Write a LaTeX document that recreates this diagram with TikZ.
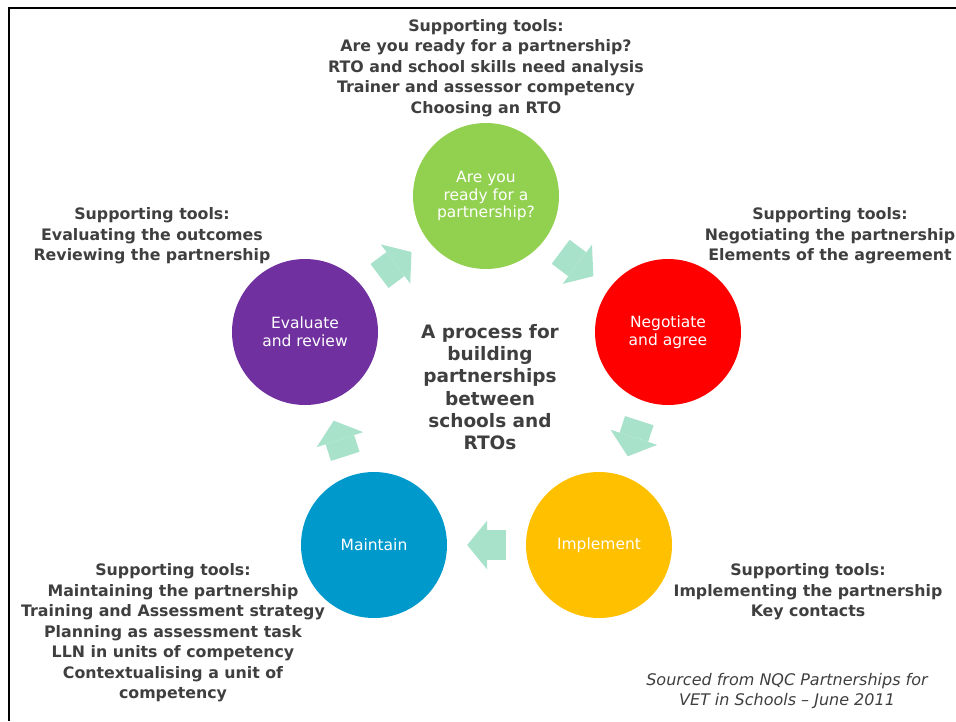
\documentclass[tikz,border=0pt]{standalone}
\usepackage{fontspec}
\setmainfont{DejaVu Sans}
\usetikzlibrary{arrows.meta,positioning}
\definecolor{readygreen}{HTML}{92D050}
\definecolor{agreered}{HTML}{FF0000}
\definecolor{implyellow}{HTML}{FFC000}
\definecolor{maintblue}{HTML}{0099CC}
\definecolor{evalpurple}{HTML}{7030A0}
\definecolor{flowmint}{HTML}{A9E2CA}
\definecolor{textgrey}{HTML}{3F3F3F}
\tikzset{>=latex}

\begin{document}
\begin{tikzpicture}[x=1pt,y=-1pt,
  stage/.style={circle, minimum size=146pt, inner sep=0pt, text=white,
    align=center, font=\fontsize{15.5}{17.8}\selectfont},
  tools/.style={align=center, inner sep=0pt, text=textgrey,
    font=\bfseries\fontsize{15.8}{20.5}\selectfont},
  flow/.style={line width=30pt, color=flowmint,
    -{Triangle[length=20pt, width=49pt, line width=0pt 0 0]},
    shorten <=20pt, shorten >=20pt}]

  \useasboundingbox (0,0) rectangle (956,721);

  % frame
  \draw[line width=2pt] (9,721) -- (9,8) -- (956,8);

  % Stages
  \node[stage, fill=readygreen] (ready) at (486,196)
    {Are you\\ready for a\\partnership?};
  \node[stage, fill=agreered] (agree) at (668,332) {Negotiate\\and agree};
  \node[stage, fill=implyellow] (impl) at (599,545) {Implement};
  \node[stage, fill=maintblue] (maint) at (374,545) {Maintain};
  \node[stage, fill=evalpurple] (eval) at (305,332) {Evaluate\\and review};

  \node[align=center, inner sep=0pt, text=textgrey,
    font=\bfseries\fontsize{18.5}{22.2}\selectfont] (title) at (490,387)
    {A process for\\building\\partnerships\\between\\schools and\\RTOs};

  % Arrows
  \draw[flow] (ready) -- (agree);
  \draw[flow] (agree) -- (impl);
  \draw[flow] (impl) -- (maint);
  \draw[flow] (maint) -- (eval);
  \draw[flow] (eval) -- (ready);

  % Supporting tools
  \node[tools, above=6pt of ready] (readytools)
    {Supporting tools:\\Are you ready for a partnership?\\RTO and school skills need analysis\\Trainer and assessor competency\\Choosing an RTO};
  \node[tools] (agreetools) at (830,236)
    {Supporting tools:\\Negotiating the partnership\\Elements of the agreement};
  \node[tools] (impltools) at (808,592)
    {Supporting tools:\\Implementing the partnership\\Key contacts};
  \node[tools] (mainttools) at (173,633)
    {Supporting tools:\\Maintaining the partnership\\Training and Assessment strategy\\Planning as assessment task\\LLN in units of competency\\Contextualising a unit of\\competency};
  \node[tools] (evaltools) at (152,236)
    {Supporting tools:\\Evaluating the outcomes\\Reviewing the partnership};

  \node[align=center, inner sep=0pt, text=textgrey,
    font=\itshape\fontsize{16}{20}\selectfont] (source) at (787,691)
    {Sourced from NQC Partnerships for\\VET in Schools -- June 2011};

\end{tikzpicture}
\end{document}
